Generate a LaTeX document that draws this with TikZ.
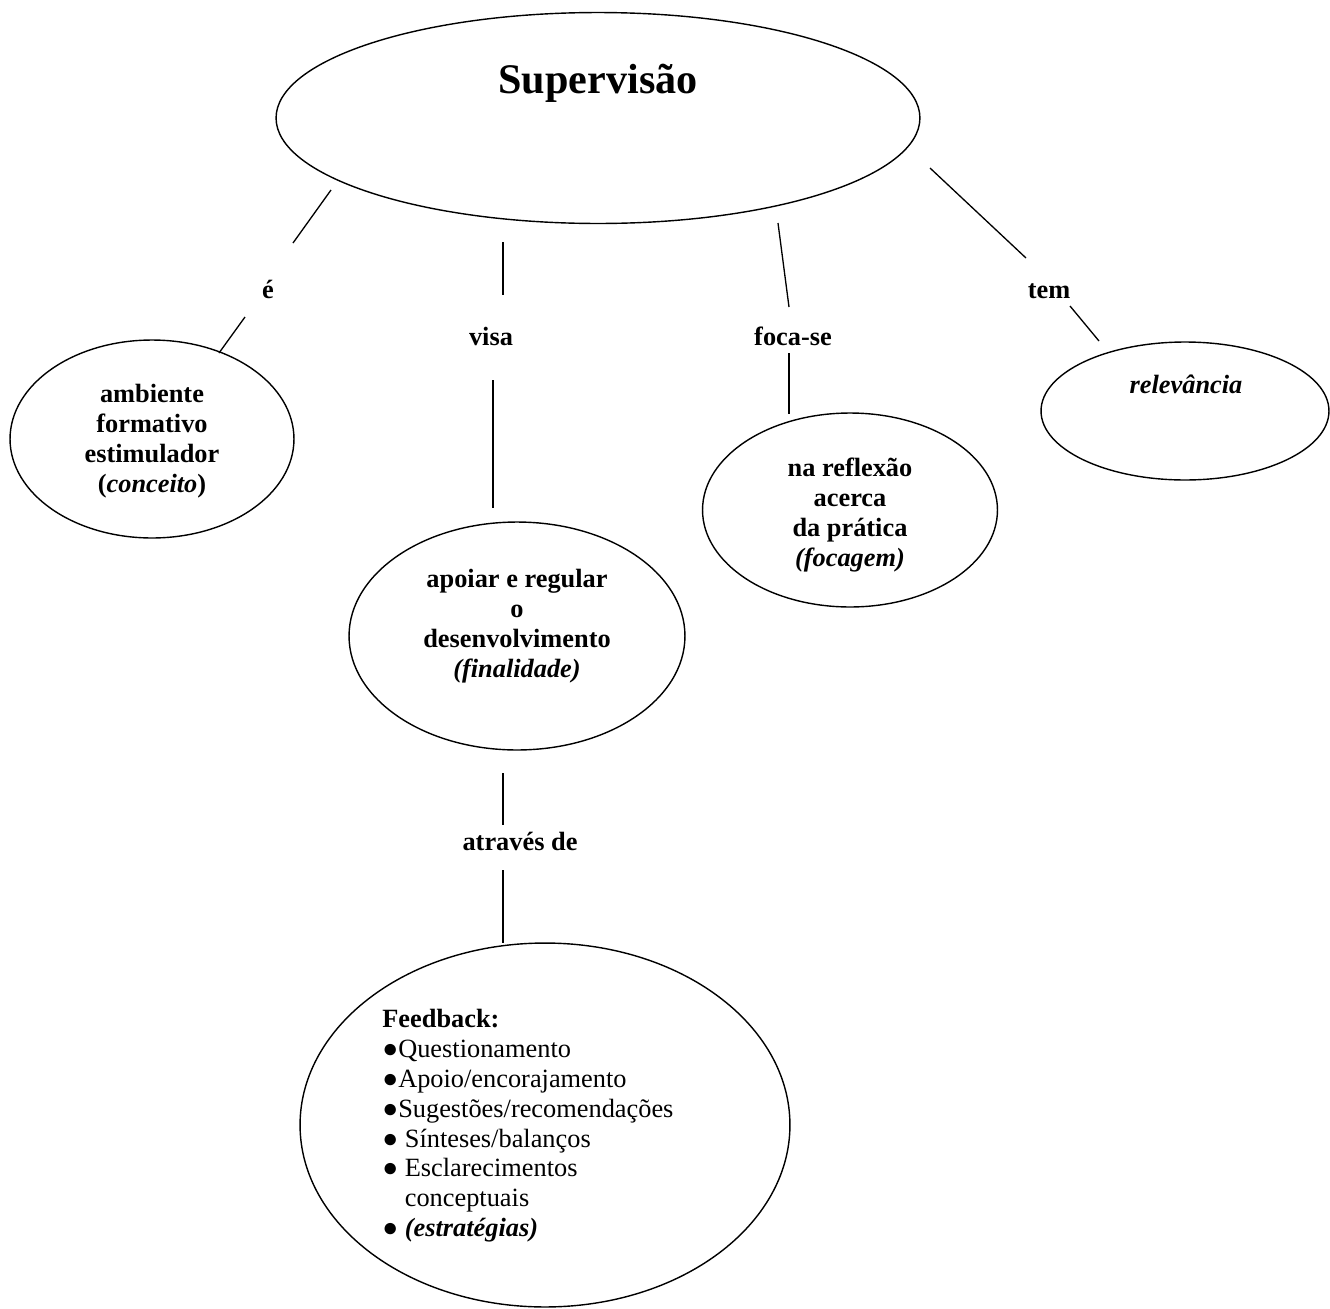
\documentclass[tikz,border=0pt]{standalone}
\usepackage{fontspec}
\setmainfont{Liberation Serif}
\usetikzlibrary{shapes,positioning}

\begin{document}
\begin{tikzpicture}[
    x=0.02cm, y=-0.02cm,
    bubble/.style={ellipse, draw, line width=0.8pt, inner sep=0pt},
    concept/.style={align=center, inner sep=0pt, font=\fontsize{15}{17}\selectfont\bfseries},
    linkword/.style={inner sep=0pt, anchor=base, font=\fontsize{15}{17}\selectfont\bfseries},
    strategy/.style={align=left, inner sep=0pt, anchor=north west, font=\fontsize{15}{17}\selectfont},
    edge/.style={line width=0.75pt}
]
\useasboundingbox (0,0) rectangle (1330,1309);

% Supervisao (top)
\node[bubble, minimum width=12.88cm, minimum height=4.22cm] (sup) at (598,118) {};
\node[anchor=base, inner sep=0pt, font=\fontsize{24}{28}\selectfont\bfseries] (supText) at (598,93) {Supervisão};

% ambiente (conceito)
\node[bubble, minimum width=5.68cm, minimum height=3.96cm] (amb) at (152,439) {};
\node[concept] (ambText) at (152,441) {ambiente\\formativo\\estimulador\\(\textit{conceito})};

% relevancia
\node[bubble, minimum width=5.76cm, minimum height=2.76cm] (rel) at (1185,411) {};
\node[concept, anchor=base] (relText) at (1186,393) {\textit{relevância}};

% reflexao (focagem)
\node[bubble, minimum width=5.9cm, minimum height=3.88cm] (refl) at (850,510) {};
\node[concept] (reflText) at (850,515) {na reflexão\\acerca\\da prática\\\textit{(focagem)}};

% apoiar (finalidade)
\node[bubble, minimum width=6.72cm, minimum height=4.56cm] (apoio) at (517,636) {};
\node[concept] (apoioText) at (517,626) {apoiar e regular\\o\\desenvolvimento\\\textit{(finalidade)}};

% Feedback (estrategias)
\node[bubble, minimum width=9.8cm, minimum height=7.28cm] (fb) at (545,1125) {};
\node[strategy] (fbText) at (382,1009) {
    \textbf{Feedback:}\\
    ●Questionamento\\
    ●Apoio/encorajamento\\
    ●Sugestões/recomendações\\
    ● Sínteses/balanços\\
    ● Esclarecimentos\\
    \phantom{● }conceptuais\\
    ● \textbf{\textit{(estratégias)}}
};

% Link words
\node[linkword] (lblE) at (268,298) {é};
\node[linkword] (lblVisa) at (491,345) {visa};
\node[linkword] (lblFoca) at (793,345) {foca-se};
\node[linkword] (lblTem) at (1049,298) {tem};
\node[linkword] (lblAtraves) at (520,850) {através de};

% Segment ends
\coordinate (e1) at (331,190);  \coordinate (e2) at (293,243);
\coordinate (e3) at (245,317);  \coordinate (e4) at (219,353);
\coordinate (v1) at (503,242);  \coordinate (v2) at (503,295);
\coordinate (v3) at (493,380);  \coordinate (v4) at (493,508);
\coordinate (f1) at (778,223);  \coordinate (f2) at (789,307);
\coordinate (f3) at (789,353);  \coordinate (f4) at (789,414);
\coordinate (t1) at (930,168);  \coordinate (t2) at (1026,258);
\coordinate (t3) at (1070,306); \coordinate (t4) at (1099,341);
\coordinate (a1) at (503,773);  \coordinate (a2) at (503,825);
\coordinate (a3) at (503,870);  \coordinate (a4) at (503,943);

% Connectors
\draw[edge] (e1) -- (e2);
\draw[edge] (e3) -- (e4);
\draw[edge] (v1) -- (v2);
\draw[edge] (v3) -- (v4);
\draw[edge] (f1) -- (f2);
\draw[edge] (f3) -- (f4);
\draw[edge] (t1) -- (t2);
\draw[edge] (t3) -- (t4);
\draw[edge] (a1) -- (a2);
\draw[edge] (a3) -- (a4);

\end{tikzpicture}
\end{document}
